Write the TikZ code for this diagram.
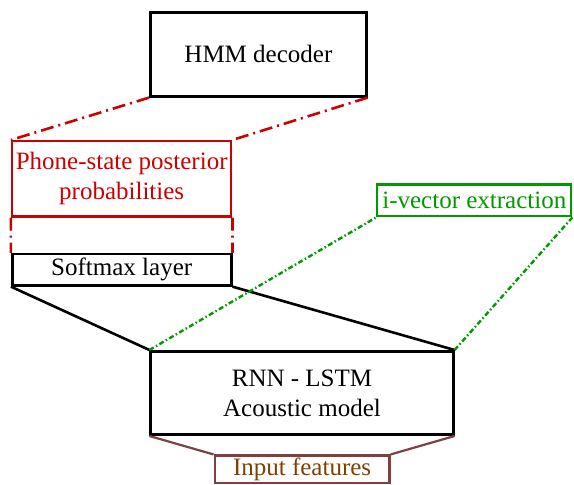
\documentclass[tikz,border=0pt]{standalone}
\usepackage{fontspec}
\setmainfont{Liberation Serif}
\usetikzlibrary{positioning}
\definecolor{postred}{RGB}{204,0,0}
\definecolor{ivgreen}{RGB}{0,153,0}
\definecolor{inborder}{RGB}{128,64,64}
\definecolor{intext}{RGB}{128,64,0}
\tikzset{
  box/.style={draw, line width=2.6pt, inner sep=0pt, align=center,
    font=\fontsize{25}{30}\selectfont},
  redbox/.style={box, draw=postred, text=postred, line width=2.2pt},
  greenbox/.style={box, draw=ivgreen, text=ivgreen, line width=2.2pt},
  brownbox/.style={box, draw=inborder, text=intext, line width=2.2pt},
  redlink/.style={draw=postred, line width=2.6pt,
    dash pattern=on 13pt off 5pt on 2pt off 5pt},
  greenlink/.style={draw=ivgreen, line width=2.4pt,
    dash pattern=on 5pt off 2.5pt on 1.5pt off 2.5pt},
  blacklink/.style={draw=black, line width=2.6pt},
  brownlink/.style={draw=inborder, line width=2.2pt}
}
\begin{document}
\begin{tikzpicture}[x=1pt, y=-1pt]
  \useasboundingbox (0,0) rectangle (574,485);

  % blocks
  \node[box, minimum width=216pt, minimum height=84pt] (hmm) at (258.4,54.3) {HMM decoder};
  \node[redbox, minimum width=219.3pt, minimum height=75.5pt] (post) at (121.7,178.8)
    {Phone-state posterior\\probabilities};
  \node[box, minimum width=219pt, minimum height=31.3pt] (soft) at (121.7,269.7) {Softmax layer};
  \node[greenbox, minimum width=194pt, minimum height=31.8pt] (ivec) at (474.3,200.4)
    {i-vector extraction};
  \node[box, minimum width=302.6pt, minimum height=83.4pt] (rnn) at (302,393)
    {RNN - LSTM\\Acoustic model};
  \node[brownbox, minimum width=174.8pt, minimum height=27.3pt] (inp) at (302.1,469.2)
    {Input features};

  % decoder <- posteriors <- softmax
  \draw[redlink] (hmm.south west) -- (post.north west);
  \draw[redlink] (hmm.south east) -- (post.north east);
  \draw[redlink] (post.south west) -- (soft.north west);
  \draw[redlink] (post.south east) -- (soft.north east);

  % softmax on top of the acoustic model
  \draw[blacklink] (soft.south west) -- (rnn.north west);
  \draw[blacklink] (soft.south east) -- (rnn.north east);

  % i-vector side input
  \draw[greenlink] (rnn.north west) -- (ivec.south west);
  \draw[greenlink] (rnn.north east) -- (ivec.south east);

  % input features
  \draw[brownlink] (rnn.south west) -- (inp.north west);
  \draw[brownlink] (rnn.south east) -- (inp.north east);
\end{tikzpicture}
\end{document}
